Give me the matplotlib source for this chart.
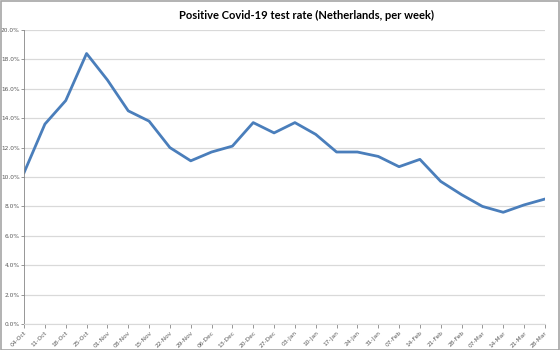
import matplotlib
matplotlib.use("Agg")
import matplotlib.pyplot as plt
from matplotlib.ticker import PercentFormatter

weeks = ["04-Oct", "11-Oct", "18-Oct", "25-Oct", "01-Nov", "08-Nov", "15-Nov",
         "22-Nov", "29-Nov", "06-Dec", "13-Dec", "20-Dec", "27-Dec", "03-Jan",
         "10-Jan", "17-Jan", "24-Jan", "31-Jan", "07-Feb", "14-Feb", "21-Feb",
         "28-Feb", "07-Mar", "14-Mar", "21-Mar", "28-Mar"]
rate = [10.3, 13.6, 15.2, 18.4, 16.6, 14.5, 13.8, 12.0, 11.1, 11.7, 12.1,
        13.7, 13.0, 13.7, 12.9, 11.7, 11.7, 11.4, 10.7, 11.2, 9.7, 8.8,
        8.0, 7.6, 8.1, 8.5]

fig = plt.figure(figsize=(5.6, 3.5), dpi=100)
fig.patches.append(plt.Rectangle((0.001, 0.001), 0.997, 0.997, transform=fig.transFigure,
                                 fill=False, edgecolor="#a6a6a6", linewidth=1.2))
ax = fig.add_axes([0.043, 0.0743, 0.930, 0.84])

x = range(len(weeks))
ax.plot(x, rate, color="#4a7ebb", linewidth=2.0, solid_joinstyle="round")

ax.set_xlim(0, len(weeks) - 1)
ax.set_ylim(0, 20)
ax.set_yticks(range(0, 21, 2))
ax.yaxis.set_major_formatter(PercentFormatter(decimals=1))
ax.set_xticks(list(x))
ax.set_xticklabels(weeks, rotation=45, ha="right", rotation_mode="anchor")
ax.tick_params(axis="both", labelsize=4.2, colors="#868686", labelcolor="#595959",
               width=0.6)
ax.tick_params(axis="x", pad=1.5, length=3)
ax.tick_params(axis="y", pad=1, length=2)

ax.grid(axis="y", color="#d9d9d9", linewidth=0.9)
ax.set_axisbelow(True)
for s in ["top", "right"]:
    ax.spines[s].set_visible(False)
ax.spines["left"].set_color("#868686")
ax.spines["bottom"].set_color("#d9d9d9")
ax.spines["left"].set_linewidth(0.6)

fig.text(0.547, 0.955, "Positive Covid-19 test rate (Netherlands, per week)",
         ha="center", va="center", fontsize=8, fontweight="bold",
         family="Lato", color="#000000")

fig.savefig("out.png", dpi=100)
